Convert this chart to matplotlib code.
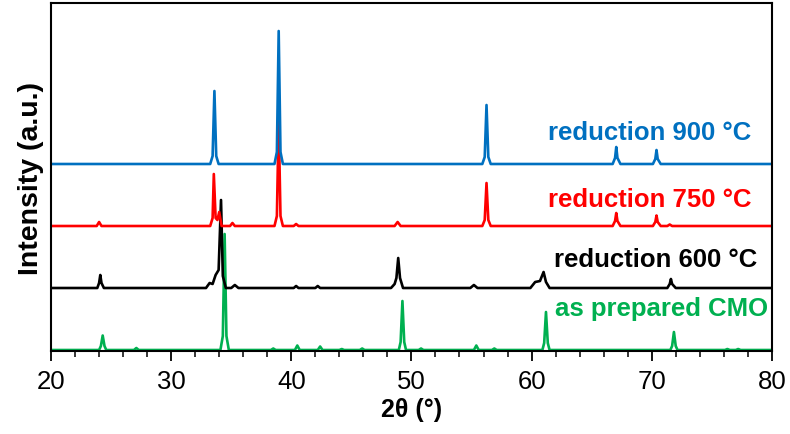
import matplotlib
matplotlib.use("Agg")
import matplotlib.pyplot as plt
from matplotlib.ticker import MultipleLocator

plt.rcParams["font.family"] = ["Liberation Sans", "DejaVu Sans"]

# XRD patterns: (2theta, intensity above the pattern's own baseline), a.u.
tt_900 = [20, 33.25, 33.45, 33.6, 33.75, 33.95, 38.6, 38.8, 38.95, 39.1, 39.3,
          55.9, 56.1, 56.25, 56.4, 56.6, 66.75, 66.95, 67.05, 67.15, 67.4,
          70.1, 70.3, 70.4, 70.5, 70.75, 80]
int_900 = [0, 0, 8, 73, 8, 0, 0, 12, 133, 12, 0,
           0, 7, 59, 7, 0, 0, 6, 17, 6, 0,
           0, 5, 14, 5, 0, 0]

tt_750 = [20, 23.8, 24.0, 24.2, 33.25, 33.45, 33.55, 33.7, 33.85, 34.0, 34.2,
          34.9, 35.1, 35.3, 38.6, 38.8, 38.95, 39.1, 39.3, 40.2, 40.4, 40.6,
          48.6, 48.85, 49.1, 55.9, 56.1, 56.25, 56.4, 56.6,
          66.75, 66.95, 67.05, 67.15, 67.4, 70.1, 70.3, 70.4, 70.5, 70.75,
          71.3, 71.5, 71.7, 80]
int_750 = [0, 0, 4, 0, 0, 8, 52, 8, 6, 14, 0,
           0, 3, 0, 0, 10, 105, 10, 0, 0, 2, 0,
           0, 4, 0, 0, 6, 43, 6, 0,
           0, 5, 13, 5, 0, 0, 4, 10.5, 4, 0,
           0, 1.5, 0, 0]

tt_600 = [20, 23.85, 24.0, 24.1, 24.2, 24.4, 32.9, 33.2, 33.45, 33.7, 33.95,
          34.15, 34.3, 34.55, 35.0, 35.3, 35.6, 40.2, 40.4, 40.6, 42.0, 42.2,
          42.4, 48.3, 48.6, 48.75, 48.9, 49.05, 49.3, 54.9, 55.2, 55.5,
          59.9, 60.3, 60.7, 61.0, 61.2, 61.5, 71.3, 71.5, 71.6, 71.7, 72.0, 80]
int_600 = [0, 0, 5, 13, 5, 0, 0, 5, 4, 13, 18,
           88, 12, 0, 0, 3, 0, 0, 2, 0, 0, 2,
           0, 0, 4, 10, 30, 10, 0, 0, 3, 0,
           0, 6, 7, 16, 6, 0, 0, 4, 9, 4, 0, 0]

tt_cmo = [20, 24.0, 24.15, 24.3, 24.45, 24.6, 26.9, 27.1, 27.3, 34.1, 34.3,
          34.45, 34.6, 34.8, 38.3, 38.5, 38.7, 40.3, 40.5, 40.7, 42.2, 42.4,
          42.6, 44.0, 44.2, 44.4, 45.7, 45.9, 46.1, 48.95, 49.1, 49.25, 49.4,
          49.55, 50.6, 50.8, 51.0, 55.2, 55.4, 55.6, 56.7, 56.9, 57.1,
          60.9, 61.05, 61.2, 61.35, 61.5, 71.55, 71.7, 71.85, 72.0, 72.15,
          76.1, 76.3, 76.5, 77.0, 77.2, 77.4, 80]
int_cmo = [0, 0, 4, 14.5, 4, 0, 0, 2, 0, 0, 14,
           116, 14, 0, 0, 1.5, 0, 0, 4.5, 0, 0, 3.5,
           0, 0, 1, 0, 0, 1.5, 0, 0, 8, 49, 8,
           0, 0, 1.5, 0, 0, 4.5, 0, 0, 1.5, 0,
           0, 7, 38, 7, 0, 0, 4, 18, 4, 0,
           0, 1, 0, 0, 1, 0, 0]

offsets = [1, 63, 125, 187]
colors = ["#00B050", "black", "#FF0000", "#0070C0"]
labels = ["as prepared CMO", "reduction 600 \u00b0C", "reduction 750 \u00b0C",
          "reduction 900 \u00b0C"]
label_x = [79.7, 78.8, 78.3, 78.3]
label_y = [36, 85, 145, 212]

patterns = [(tt_cmo, int_cmo), (tt_600, int_600), (tt_750, int_750),
            (tt_900, int_900)]

fig = plt.figure(figsize=(7.9, 4.35), dpi=100)
ax = fig.add_axes([0.0646, 0.1908, 0.9124, 0.8])

for (tt, inten), off, c in zip(patterns, offsets, colors):
    ax.plot(tt, [v + off for v in inten], color=c, linewidth=1.9,
            solid_joinstyle="round")

for txt, x, y, c in zip(labels, label_x, label_y, colors):
    ax.text(x, y, txt, color=c, fontsize=18.5, fontweight="bold",
            ha="right", va="baseline")

ax.set_xlim(20, 80)
ax.set_ylim(0, 348)
ax.set_yticks([])
ax.xaxis.set_major_locator(MultipleLocator(10))
ax.xaxis.set_minor_locator(MultipleLocator(2))
ax.tick_params(axis="x", which="major", direction="out", length=7, width=1.3,
               pad=6, labelsize=18.5)
ax.tick_params(axis="x", which="minor", direction="out", length=4, width=1.1)
for sp in ax.spines.values():
    sp.set_linewidth(1.5)

ax.set_xlabel("2\u03b8 (\u00b0)", fontsize=18, fontweight="bold", labelpad=3)
ax.set_ylabel("Intensity (a.u.)", fontsize=20.5, fontweight="bold", labelpad=5)

fig.savefig("out.png", dpi=100)
